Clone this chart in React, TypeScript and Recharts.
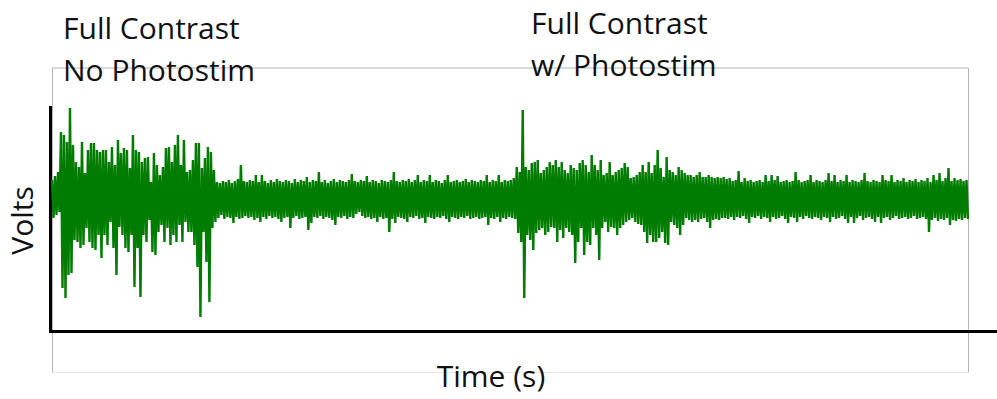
import { LineChart, Line, XAxis, YAxis, Customized } from "recharts";

// Recording envelope, one column per sample bin, in centivolts (0.01 V)
// hiCv = upper excursion, loCv = lower excursion within each bin
const hiCv = [
  // burst 1 – full contrast, no photostim
  19, 23, 27, 67, 64, 57, 91, 54, 37, 32,
  57, 26, 49, 56, 56, 49, 47, 49, 49, 37,
  52, 34, 59, 46, 51, 49, 31, 64, 49, 47,
  37, 41, 42, 17, 46, 34, 24, 32, 51, 52,
  37, 54, 64, 34, 59, 27, 29, 39, 56, 56,
  31, 41, 52, 47, 29, 17, 16,
  // baseline
  18, 17, 19, 16, 18, 20, 34, 18, 17, 19,
  18, 24, 17, 24, 18, 16, 19, 17, 20, 18,
  17, 19, 18, 16, 20, 17, 19, 18, 22, 17,
  19, 18, 27, 17, 19, 16, 18, 20, 17, 19,
  18, 17, 19, 25, 18, 17, 19, 18, 23, 17,
  19, 18, 16, 19, 18, 17, 19, 27, 18, 17,
  19, 18, 20, 17, 19, 24, 17, 19, 18, 24,
  17, 19, 18, 16, 19, 24, 17, 18, 19, 17,
  18, 20, 17, 19, 18, 17, 19, 18, 24, 17,
  19, 18, 24, 17, 19, 18, 19, 21,
  // burst 2 – full contrast with photostim
  32, 27, 89, 32, 29, 36, 37, 39, 26, 29,
  32, 37, 34, 39, 32, 37, 29, 26, 34, 31,
  29, 36, 39, 34, 27, 44, 34, 29, 39, 24,
  26, 37, 24, 27, 29, 31, 36, 32, 21, 22,
  24, 27, 34, 27, 37, 26, 34, 49, 31, 22,
  42, 29, 27, 24, 32, 29, 26, 24, 24, 22,
  24, 27, 22, 22, 24, 22, 21, 22, 21, 22,
  20, 21,
  // recovery
  18, 19, 28, 17, 21, 18, 19, 17, 18, 19,
  17, 24, 18, 24, 19, 23, 17, 18, 19, 17,
  18, 27, 19, 17, 18, 19, 24, 17, 19, 18,
  17, 19, 26, 18, 24, 17, 19, 18, 24, 17,
  19, 18, 17, 19, 26, 18, 17, 19, 18, 17,
  24, 19, 18, 24, 17, 19, 18, 21, 17, 19,
  18, 20, 17, 19, 18, 21, 17, 24, 19, 26,
  18, 21, 31, 18, 21, 19, 20, 18, 19,
];

const loCv = [
  -19, -16, -13, -89, -99, -76, -74, -41, -43, -49,
  -46, -29, -43, -49, -51, -36, -59, -36, -46, -23,
  -49, -76, -28, -36, -49, -53, -36, -88, -49, -98,
  -36, -43, -21, -53, -56, -33, -26, -43, -29, -46,
  -36, -43, -26, -43, -23, -33, -33, -46, -68, -118,
  -33, -63, -103, -29, -23, -19, -16,
  -20, -18, -19, -24, -18, -20, -19, -17, -19, -18,
  -21, -19, -23, -18, -20, -17, -19, -18, -20, -23,
  -19, -18, -29, -19, -17, -20, -19, -18, -31, -24,
  -18, -19, -17, -20, -18, -19, -21, -26, -18, -19,
  -17, -20, -18, -19, -15, -13, -17, -19, -18, -20,
  -19, -23, -18, -20, -19, -33, -20, -24, -18, -19,
  -20, -23, -18, -19, -17, -20, -19, -24, -18, -19,
  -20, -18, -19, -17, -20, -23, -18, -19, -20, -18,
  -19, -17, -20, -19, -18, -20, -19, -18, -26, -19,
  -20, -18, -23, -19, -20, -18, -19, -20,
  -34, -43, -99, -36, -41, -51, -34, -31, -29, -36,
  -33, -28, -29, -43, -31, -39, -29, -33, -36, -64,
  -43, -29, -56, -43, -46, -29, -36, -61, -29, -23,
  -33, -28, -29, -36, -29, -26, -23, -21, -19, -23,
  -25, -26, -33, -44, -36, -43, -43, -39, -33, -44,
  -46, -23, -26, -29, -36, -26, -19, -21, -23, -21,
  -23, -20, -19, -23, -29, -21, -20, -21, -19, -19,
  -20, -18,
  -21, -18, -19, -17, -20, -24, -18, -19, -17, -20,
  -18, -19, -23, -18, -20, -19, -17, -20, -24, -18,
  -19, -23, -18, -20, -17, -19, -20, -18, -19, -21,
  -18, -19, -23, -18, -20, -19, -17, -20, -24, -18,
  -24, -19, -17, -21, -19, -18, -20, -23, -18, -24,
  -19, -18, -21, -19, -17, -20, -19, -18, -20, -19,
  -17, -20, -19, -18, -20, -33, -21, -19, -22, -20,
  -21, -19, -26, -21, -22, -20, -21, -19, -20,
];

const annotationLeft = ["Full Contrast", "No Photostim"];
const annotationRight = ["Full Contrast", "w/ Photostim"];
const xLabel = "Time (s)";
const yLabel = "Volts";

// interleave the high/low excursions so the line sweeps the full range of each bin
const trace = hiCv.flatMap((hi, i) => [
  { t: i, v: hi },
  { t: i + 0.5, v: loCv[i] },
]);

const FONT = "'Open Sans', sans-serif";

const Frame = () => (
  <g>
    {/* plot frame */}
    <line x1={52.5} y1={68} x2={968.5} y2={68} stroke="#b4b4b4" />
    <line x1={52.5} y1={68} x2={52.5} y2={373} stroke="#b4b4b4" />
    <line x1={968.5} y1={68} x2={968.5} y2={373} stroke="#b4b4b4" />
    <line x1={52.5} y1={372.5} x2={968.5} y2={372.5} stroke="#e6e6e6" />
    {/* axes */}
    <line x1={50.5} y1={106} x2={50.5} y2={333} stroke="#000" strokeWidth={3} />
    <line x1={49} y1={331.5} x2={997} y2={331.5} stroke="#000" strokeWidth={3} />
    <g fontFamily={FONT} fontSize={30} fill="#111">
      {annotationLeft.map((s, i) => (
        <text key={"l" + i} x={63} y={38.5 + i * 42.5}>
          {s}
        </text>
      ))}
      {annotationRight.map((s, i) => (
        <text key={"r" + i} x={531} y={33.5 + i * 42.5}>
          {s}
        </text>
      ))}
      <text x={491} y={387} textAnchor="middle">
        {xLabel}
      </text>
      <text x={33} y={220.5} textAnchor="middle" transform="rotate(-90 33 220.5)">
        {yLabel}
      </text>
    </g>
  </g>
);

export default function App() {
  return (
    <div style={{ position: "absolute", left: 0, top: 0, width: 997, height: 399, background: "#fff" }}>
      <LineChart
        width={997}
        height={399}
        data={trace}
        margin={{ top: 68, right: 29, bottom: 26, left: 52 }}
      >
        <XAxis dataKey="t" type="number" domain={[0, 305.5]} hide />
        <YAxis type="number" domain={[-174, 131]} hide allowDataOverflow />
        <Customized component={<Frame />} />
        <Line
          dataKey="v"
          type="linear"
          stroke="#007d00"
          strokeWidth={2.4}
          strokeLinejoin="miter"
          dot={false}
          isAnimationActive={false}
        />
      </LineChart>
    </div>
  );
}
